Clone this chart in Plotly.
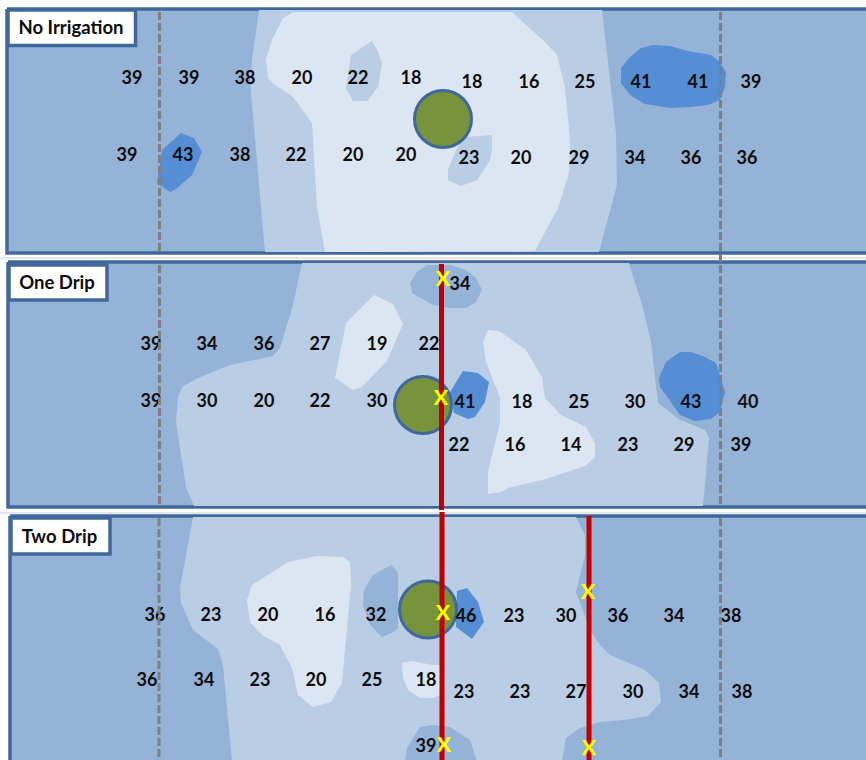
import plotly.graph_objects as go

# ---- colours ----
BASE = "#95B3D7"; MID = "#B9CDE5"; LIGHT = "#DCE6F2"; BLUE = "#558ED5"
EDGE = "#41689A"; TREE = "#77933C"; DASH = "#7F7F7F"; RED = "#C00000"; MARK = "#FFFF00"

# ---- panel frames and title boxes ----
P1_FRAME = [(7, 9), (872, 9), (872, 253), (7, 253)]
P2_FRAME = [(8, 262), (872, 262), (872, 507), (8, 507)]
P3_FRAME = [(10, 516), (872, 516), (872, 764), (10, 764)]
P1_TITLEBOX = [(8, 10), (135.5, 10), (135.5, 45.5), (8, 45.5)]
P2_TITLEBOX = [(9, 265), (107, 265), (107, 300), (9, 300)]
P3_TITLEBOX = [(11, 518), (110, 518), (110, 554), (11, 554)]
TITLES = ["No Irrigation", "One Drip", "Two Drip"]
TITLE_X = [71, 57, 59.5]
TITLE_Y = [29, 284.5, 538.5]

# ---- panel 1 regions ----
P1_MID = [(259, 10), (252, 60), (251, 93), (265, 252), (599, 252), (606, 227), (617, 185), (616, 133), (602, 10)]
P1_LIGHT = [(293, 12), (283, 18), (272, 40), (266, 60), (268, 78), (275, 85), (293, 97), (312, 123), (317, 207), (325, 252),
            (535, 251), (558, 208), (569, 173), (570, 140), (565, 87), (557, 55), (546, 43), (512, 12)]
P1_ISLE_A = [(372, 41), (378, 52), (382, 63), (378, 87), (367, 101), (353, 101), (346, 88), (351, 55)]
P1_ISLE_B = [(492, 135), (492, 150), (490, 160), (477, 180), (461, 186), (448, 180), (448, 170), (456, 150), (465, 137)]
P1_BLUE_A = [(181, 133), (194, 138), (202, 152), (192, 175), (176, 189), (170, 192), (157, 183), (162, 150)]
P1_BLUE_B = [(621, 68), (630, 57), (641, 48), (653, 45), (670, 46), (688, 51), (711, 55), (720, 62), (726, 72), (725, 87),
             (720, 100), (708, 105), (690, 107), (670, 108), (645, 104), (630, 95), (621, 83)]

# ---- panel 2 regions ----
P2_MID = [(302, 263), (293, 305), (280, 348), (273, 356), (230, 365), (198, 378), (183, 386), (178, 397), (176, 422),
          (186, 487), (194, 506), (703, 506), (709, 438), (705, 430), (680, 420), (658, 403), (651, 342), (643, 308), (629, 263)]
P2_DARK = [(410, 283), (417, 272), (427, 265), (450, 265), (466, 270), (476, 278), (482, 290), (476, 302), (466, 308),
           (450, 308), (433, 305), (412, 293)]
P2_LIGHT_A = [(374, 295), (393, 304), (403, 324), (387, 361), (362, 387), (353, 390), (335, 378), (346, 323)]
P2_LIGHT_B = [(488, 330), (499, 331), (526, 350), (542, 377), (545, 398), (561, 415), (586, 427), (595, 443), (595, 457),
              (585, 466), (546, 479), (508, 488), (501, 492), (488, 494), (488, 472), (500, 422), (500, 398), (486, 362), (483, 342)]
P2_BLUE_A = [(463, 371), (478, 373), (489, 382), (485, 402), (475, 417), (468, 419), (454, 413), (450, 392)]
P2_BLUE_B = [(680, 352), (691, 352), (705, 357), (716, 363), (721, 378), (725, 392), (720, 412), (711, 419), (695, 421),
             (680, 415), (660, 387), (659, 378), (666, 362)]

# ---- panel 3 regions ----
P3_MID = [(193, 517), (180, 588), (181, 603), (193, 630), (218, 649), (223, 665), (232, 760), (562, 760), (566, 738), (580, 728),
          (600, 722), (625, 720), (648, 716), (661, 702), (659, 683), (645, 670), (610, 655), (600, 645), (591, 632), (576, 592),
          (585, 555), (585, 535), (576, 517)]
P3_DARK_A = [(391, 565), (398, 573), (398, 628), (392, 633), (382, 637), (370, 625), (363, 605), (364, 590), (373, 575)]
P3_DARK_B = [(405, 762), (407, 748), (420, 727), (433, 725), (450, 727), (470, 740), (477, 762)]
P3_LIGHT_A = [(247, 600), (252, 585), (288, 562), (317, 556), (343, 557), (350, 562), (351, 585), (347, 628), (342, 683),
              (331, 702), (313, 707), (298, 695), (292, 668), (280, 645), (262, 635), (250, 622)]
P3_LIGHT_B = [(402, 663), (412, 661), (433, 665), (440, 665), (441, 695), (433, 698), (420, 698), (408, 690), (403, 678)]
P3_BLUE = [(457, 591), (467, 588), (478, 602), (484, 622), (472, 639), (456, 627)]

# ---- trees ----
TREE_X = [443, 423, 428]
TREE_Y = [119, 405, 609.5]

# ---- readings ----
P1_X = [132, 189, 245, 302, 358, 411, 472, 529, 585, 641, 698, 751, 127, 183, 240, 296, 353, 406, 469, 521, 579, 635, 691, 747]
P1_Y = [79, 79, 79, 79, 79, 79, 83, 83, 83, 83, 83, 83, 156, 156, 156, 156, 156, 156, 159, 159, 159, 159, 159, 159]
P1_V = [39, 39, 38, 20, 22, 18, 18, 16, 25, 41, 41, 39, 39, 43, 38, 22, 20, 20, 23, 20, 29, 34, 36, 36]

P2_X = [460, 151, 207, 264, 320, 377, 429, 151, 207, 264, 320, 377, 465, 522, 579, 635, 691, 748, 459, 515, 571, 628, 684, 741]
P2_Y = [285, 345, 345, 345, 345, 345, 345, 402, 402, 402, 402, 402, 403, 403, 403, 403, 403, 403, 446, 446, 446, 446, 446, 446]
P2_V = [34, 39, 34, 36, 27, 19, 22, 39, 30, 20, 22, 30, 41, 18, 25, 30, 43, 40, 22, 16, 14, 23, 29, 39]

P3_X = [155, 211, 268, 325, 376, 466, 514, 566, 618, 674, 731, 147, 204, 260, 316, 372, 426, 464, 520, 576, 633, 689, 742, 426]
P3_Y = [616, 616, 616, 616, 616, 617, 617, 617, 617, 617, 617, 681, 681, 681, 681, 681, 681, 693, 693, 693, 693, 693, 693, 747]
P3_V = [36, 23, 20, 16, 32, 46, 23, 30, 36, 34, 38, 36, 34, 23, 20, 25, 18, 23, 23, 27, 30, 34, 38, 39]

# ---- guide lines and drip lines ----
DASH_X = [159.5, 720.5, 159.5, 720.5, 159, 720.5]
DASH_Y0 = [12, 12, 265, 265, 518, 518]
DASH_Y1 = [252, 262, 505, 505, 760, 760]
DRIP_X = [441.5, 442, 589]
DRIP_Y0 = [264, 512, 516]
DRIP_Y1 = [510, 760, 760]
X_X = [443, 441, 588, 443, 444, 589]
X_Y = [281, 399.5, 594, 614.5, 747, 750]
DIVIDER_Y = [258, 513]

fig = go.Figure()


def poly(points, fill, line=None, width=0):
    xs = [p[0] for p in points] + [points[0][0]]
    ys = [p[1] for p in points] + [points[0][1]]
    fig.add_trace(go.Scatter(x=xs, y=ys, mode="lines", fill="toself", fillcolor=fill,
                             line=dict(color=line or fill, width=width if line else 0),
                             hoverinfo="skip", showlegend=False))


def labels(xs, ys, vals):
    fig.add_trace(go.Scatter(x=xs, y=ys, mode="text", text=[str(v) for v in vals], textposition="middle center",
                             textfont=dict(family="Lato", size=18, color="#0D0D0D", weight=700),
                             hoverinfo="skip", showlegend=False))


def tree(i):
    fig.add_trace(go.Scatter(x=[TREE_X[i]], y=[TREE_Y[i]], mode="markers",
                             marker=dict(size=57, color=TREE, line=dict(color=EDGE, width=3)),
                             hoverinfo="skip", showlegend=False))


def panel(frame, regions, i, lx, ly, lv):
    poly(frame, BASE, EDGE, 3.5)
    for pts, col in regions:
        poly(pts, col)
    tree(i)
    labels(lx, ly, lv)


for y in DIVIDER_Y:
    fig.add_trace(go.Scatter(x=[0, 866], y=[y, y], mode="lines", line=dict(color="#C9CFD8", width=1),
                             hoverinfo="skip", showlegend=False))

panel(P1_FRAME, [(P1_MID, MID), (P1_LIGHT, LIGHT), (P1_ISLE_A, MID), (P1_ISLE_B, MID), (P1_BLUE_A, BLUE), (P1_BLUE_B, BLUE)],
      0, P1_X, P1_Y, P1_V)
panel(P2_FRAME, [(P2_MID, MID), (P2_DARK, BASE), (P2_LIGHT_A, LIGHT), (P2_LIGHT_B, LIGHT), (P2_BLUE_A, BLUE), (P2_BLUE_B, BLUE)],
      1, P2_X, P2_Y, P2_V)
panel(P3_FRAME, [(P3_MID, MID), (P3_DARK_A, BASE), (P3_DARK_B, BASE), (P3_LIGHT_A, LIGHT), (P3_LIGHT_B, LIGHT), (P3_BLUE, BLUE)],
      2, P3_X, P3_Y, P3_V)

for x, y0, y1 in zip(DASH_X, DASH_Y0, DASH_Y1):
    fig.add_trace(go.Scatter(x=[x, x], y=[y0, y1], mode="lines", line=dict(color=DASH, width=3, dash="8px,3px"),
                             hoverinfo="skip", showlegend=False))
for x, y0, y1 in zip(DRIP_X, DRIP_Y0, DRIP_Y1):
    fig.add_trace(go.Scatter(x=[x, x], y=[y0, y1], mode="lines", line=dict(color=RED, width=5),
                             hoverinfo="skip", showlegend=False))
fig.add_trace(go.Scatter(x=X_X, y=X_Y, mode="text", text=["X"] * len(X_X), textposition="middle center",
                         textfont=dict(family="Lato", size=21, color=MARK, weight=900),
                         hoverinfo="skip", showlegend=False))

for box in (P1_TITLEBOX, P2_TITLEBOX, P3_TITLEBOX):
    poly(box, "#FFFFFF", EDGE, 3.5)
fig.add_trace(go.Scatter(x=TITLE_X, y=TITLE_Y, mode="text", text=TITLES, textposition="middle center",
                         textfont=dict(family="Lato", size=18.5, color="#0D0D0D", weight=700),
                         hoverinfo="skip", showlegend=False))

fig.update_layout(width=866, height=760, margin=dict(l=0, r=0, t=0, b=0), paper_bgcolor="white", plot_bgcolor="white",
                  showlegend=False,
                  xaxis=dict(range=[0, 866], visible=False, fixedrange=True),
                  yaxis=dict(range=[760, 0], visible=False, fixedrange=True))
fig.write_html("out.html", config={"displayModeBar": False}, post_script="document.body.style.margin='0';")
